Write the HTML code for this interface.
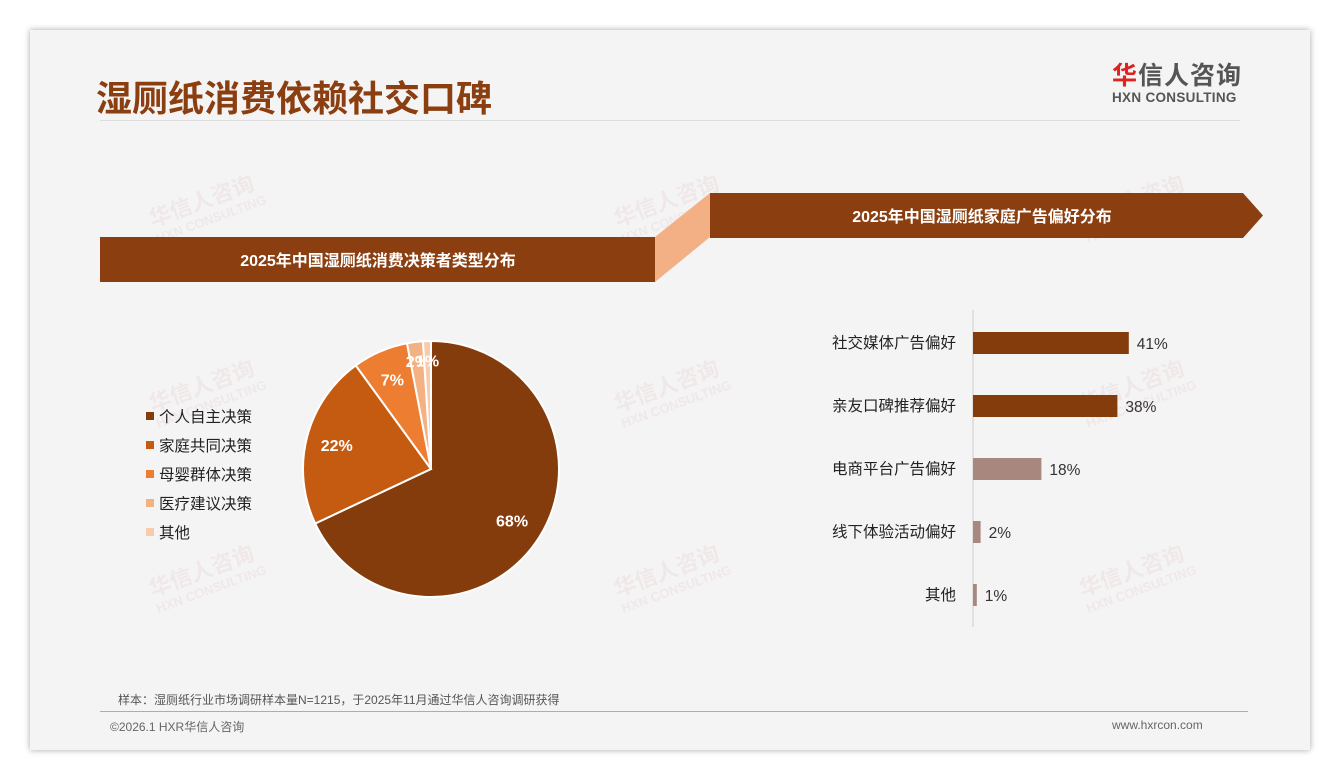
<!DOCTYPE html>
<html><head><meta charset="utf-8"><style>
body{margin:0;width:1340px;height:780px;background:#fff;font-family:"Liberation Sans","Noto Sans CJK SC",sans-serif;position:relative;overflow:hidden}
.card{position:absolute;left:30px;top:30px;width:1280px;height:720px;background:#f4f4f4;box-shadow:0 0 6px rgba(0,0,0,.35)}
.abs{position:absolute}
.wm{position:absolute;color:rgba(200,80,80,.07);font-weight:bold;transform:rotate(-20deg);font-size:22px;line-height:20px}
.wm small{display:block;font-size:13px}
</style></head><body>
<div class="card"></div>
<div class="abs" style="left:96px;top:70px;font-size:36px;font-weight:bold;color:#8B3E0F">湿厕纸消费依赖社交口碑</div>
<div class="abs" style="left:100px;top:120px;width:1140px;height:1px;background:#ddd"></div>
<div class="abs" style="left:1112px;top:63px;font-size:25px;font-weight:bold;color:#555;line-height:27px;letter-spacing:1px"><span style="color:#d22">华</span>信人咨询<div style="font-size:13.5px;line-height:16px;letter-spacing:0.3px">HXN CONSULTING</div></div>
<div class="wm" style="left:150px;top:190px">华信人咨询<small>HXN CONSULTING</small></div>
<div class="wm" style="left:615px;top:190px">华信人咨询<small>HXN CONSULTING</small></div>
<div class="wm" style="left:1080px;top:190px">华信人咨询<small>HXN CONSULTING</small></div>
<div class="wm" style="left:150px;top:375px">华信人咨询<small>HXN CONSULTING</small></div>
<div class="wm" style="left:615px;top:375px">华信人咨询<small>HXN CONSULTING</small></div>
<div class="wm" style="left:1080px;top:375px">华信人咨询<small>HXN CONSULTING</small></div>
<div class="wm" style="left:150px;top:560px">华信人咨询<small>HXN CONSULTING</small></div>
<div class="wm" style="left:615px;top:560px">华信人咨询<small>HXN CONSULTING</small></div>
<div class="wm" style="left:1080px;top:560px">华信人咨询<small>HXN CONSULTING</small></div>
<svg class="abs" style="left:0;top:0" width="1340" height="780">
<rect x="100" y="237" width="555" height="45" fill="#8B3E0F"/>
<polygon points="655,237 710,193 710,237 655,282" fill="#F2B084"/>
<polygon points="710,193 1243,193 1263,215.5 1243,238 710,238" fill="#8B3E0F"/>
<text x="378" y="266" fill="#fff" font-size="16" font-weight="bold" text-anchor="middle">2025年中国湿厕纸消费决策者类型分布</text>
<text x="982" y="222" fill="#fff" font-size="16" font-weight="bold" text-anchor="middle">2025年中国湿厕纸家庭广告偏好分布</text>
</svg>
<svg id="pie" class="abs" style="left:0;top:0" width="1340" height="780"></svg>
<svg id="bar" class="abs" style="left:0;top:0" width="1340" height="780"></svg>
<div class="abs" style="left:118px;top:691px;font-size:12px;color:#555">样本：湿厕纸行业市场调研样本量N=1215，于2025年11月通过华信人咨询调研获得</div>
<div class="abs" style="left:100px;top:711px;width:1148px;height:1px;background:#d9a080"></div>
<div class="abs" style="left:110px;top:718px;font-size:12px;color:#666">©2026.1 HXR华信人咨询</div>
<div class="abs" style="left:1112px;top:718px;font-size:12px;color:#666">www.hxrcon.com</div>
<script>
const pieLabels=["个人自主决策","家庭共同决策","母婴群体决策","医疗建议决策","其他"];
const pieValues=[68,22,7,2,1];
const pieColors=["#843C0C","#C55A11","#ED7D31","#F4B183","#F8CBAD"];
const barLabels=["社交媒体广告偏好","亲友口碑推荐偏好","电商平台广告偏好","线下体验活动偏好","其他"];
const barValues=[41,38,18,2,1];
const barColors=["#843C0C","#843C0C","#A8877F","#A8877F","#A8877F"];
const NS="http://www.w3.org/2000/svg";
function mk(p,t,a){const e=document.createElementNS(NS,t);for(const k in a)e.setAttribute(k,a[k]);p.appendChild(e);return e;}
const pie=document.getElementById('pie');
const cx=431,cy=469,r=128;
const tot=pieValues.reduce((a,b)=>a+b,0);
let ang=0;
pieValues.forEach((v,i)=>{
  const a0=ang,a1=ang+v/tot*2*Math.PI;ang=a1;
  const x0=cx+r*Math.sin(a0),y0=cy-r*Math.cos(a0),x1=cx+r*Math.sin(a1),y1=cy-r*Math.cos(a1);
  const p=mk(pie,'path',{d:`M${cx},${cy}L${x0},${y0}A${r},${r} 0 ${a1-a0>Math.PI?1:0} 1 ${x1},${y1}Z`,fill:pieColors[i],stroke:'#fff','stroke-width':2});
  
  
  const m=(a0+a1)/2,lr=i===0?r*0.75:(i<3?r*0.76:r*0.85);
  const t=mk(pie,'text',{x:cx+lr*Math.sin(m),y:cy-lr*Math.cos(m)+6,fill:'#fff','font-size':16,'font-weight':'bold','text-anchor':'middle'});
  t.textContent=v+'%';
  
  
  const ly=416+i*29;
  const sq=mk(pie,'rect',{x:146,y:ly-4,width:8,height:8,fill:pieColors[i]});
  
  
  const lt=mk(pie,'text',{x:159,y:ly+6,fill:'#222','font-size':15.5});
  lt.textContent=pieLabels[i];
  
  
});
const bar=document.getElementById('bar');
const ax=973,pxPer=3.8,y0b=343,step=63,bh=22;
const axl=mk(bar,'line',{x1:ax,y1:310,x2:ax,y2:627,stroke:'#ccc','stroke-width':1});


barValues.forEach((v,i)=>{
  const yc=y0b+i*step;
  const b=mk(bar,'rect',{x:ax,y:yc-bh/2,width:v*pxPer,height:bh,fill:barColors[i]});
  
  
  const t=mk(bar,'text',{x:ax+v*pxPer+8,y:yc+6,fill:'#333','font-size':15.5});
  t.textContent=v+'%';
  
  
  const c=mk(bar,'text',{x:956,y:yc+5,fill:'#222','font-size':15.5,'text-anchor':'end'});
  c.textContent=barLabels[i];
  
  
});
</script>
</body></html>
